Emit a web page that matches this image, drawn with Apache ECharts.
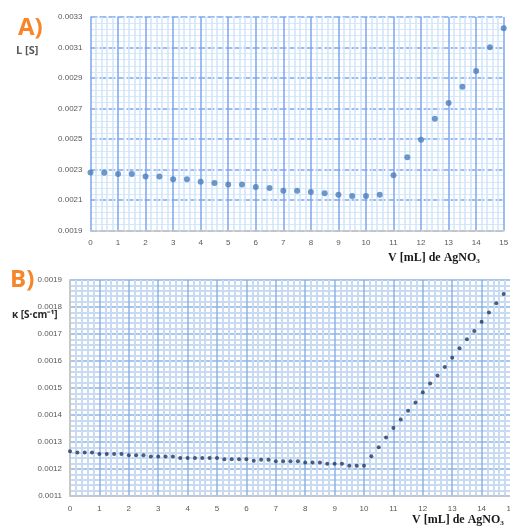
<!DOCTYPE html>
<html>
<head>
<meta charset="utf-8">
<script src="https://cdn.jsdelivr.net/npm/echarts@6/dist/echarts.min.js"></script>
<style>
html,body{margin:0;padding:0;background:#fff;}
#c{width:510px;height:527px;}
</style>
</head>
<body>
<div id="c"></div>
<script>
// ---- Data ----
var volA = [0,0.5,1,1.5,2,2.5,3,3.5,4,4.5,5,5.5,6,6.5,7,7.5,8,8.5,9,9.5,10,10.5,11,11.5,12,12.5,13,13.5,14,14.5,15];
var condL = [0.002281,0.002280,0.002272,0.002272,0.002255,0.002255,0.002237,0.002237,0.002220,0.002212,
             0.002203,0.002203,0.002187,0.002179,0.002162,0.002162,0.002153,0.002145,0.002136,0.002128,
             0.002128,0.002136,0.002264,0.002381,0.002496,0.002634,0.002737,0.002843,0.002946,0.003102,0.003226];

var volB = [0,0.25,0.5,0.75,1,1.25,1.5,1.75,2,2.25,2.5,2.75,3,3.25,3.5,3.75,4,4.25,4.5,4.75,
            5,5.25,5.5,5.75,6,6.25,6.5,6.75,7,7.25,7.5,7.75,8,8.25,8.5,8.75,9,9.25,9.5,9.75,
            10,10.25,10.5,10.75,11,11.25,11.5,11.75,12,12.25,12.5,12.75,13,13.25,13.5,13.75,14,14.25,14.5,14.75];
var kappa = [0.001266,0.001261,0.001261,0.001261,0.001256,0.001256,0.001256,0.001256,0.001251,0.001251,
             0.001251,0.001246,0.001246,0.001246,0.001246,0.001241,0.001241,0.001241,0.001241,0.001241,
             0.001241,0.001236,0.001236,0.001236,0.001236,0.001231,0.001234,0.001234,0.001229,0.001229,
             0.001229,0.001229,0.001224,0.001224,0.001224,0.001219,0.001219,0.001219,0.001212,0.001212,
             0.001212,0.001247,0.001281,0.001317,0.001352,0.001383,0.001416,0.001446,0.001484,0.001517,
             0.001546,0.001578,0.001612,0.001647,0.001681,0.001711,0.001745,0.001780,0.001814,0.001848];

var ticksA_y = ['0.0019','0.0021','0.0023','0.0025','0.0027','0.0029','0.0031','0.0033'];
var ticksB_y = ['0.0011','0.0012','0.0013','0.0014','0.0015','0.0016','0.0017','0.0018','0.0019'];

// Axis A plotted in units of 1e-4 offset from its minimum (so ticks start at 0.0019)
var A_MIN = 19, A_SCALE = 1e4;
var dataA = volA.map(function(x,i){ return [x, condL[i]*A_SCALE - A_MIN]; });
var dataB = volB.map(function(x,i){ return [x, kappa[i]*1e4]; });

var lblFont = {fontFamily:'Liberation Sans', fontSize:8, color:'#595959'};

var chart = echarts.init(document.getElementById('c'), null, {renderer:'canvas'});
chart.setOption({
  animation:false,
  backgroundColor:'#ffffff',
  grid:[
    {left:90.5, right:6.3, top:17, bottom:296.3, show:false, containLabel:false, outerBoundsMode:'none'},
    {left:70, right:-1, top:280, bottom:31, show:false, containLabel:false, outerBoundsMode:'none'}
  ],
  xAxis:[
    {gridIndex:0, type:'value', min:0, max:15, interval:1,
     axisLine:{show:true, lineStyle:{color:'#c8c8c8', width:1.5}},
     axisTick:{show:false},
     axisLabel:Object.assign({margin:8}, lblFont),
     splitLine:{show:true, lineStyle:{color:'#7ea6ee', width:1.5}},
     minorTick:{show:false, splitNumber:5},
     minorSplitLine:{show:true, lineStyle:{color:'#cfe5fb', width:1.5}}
    },
    {gridIndex:1, type:'value', min:0, max:15, interval:1,
     axisLine:{show:true, lineStyle:{color:'#c8c8c8', width:1.5}},
     axisTick:{show:false},
     axisLabel:Object.assign({margin:9}, lblFont),
     splitLine:{show:true, lineStyle:{color:'#8db3e5', width:1.5}},
     minorTick:{show:false, splitNumber:5},
     minorSplitLine:{show:true, lineStyle:{color:'#c8dbf2', width:2}}
    }
  ],
  yAxis:[
    {gridIndex:0, type:'value', min:0, max:14, interval:2,
     axisLine:{show:false},
     axisTick:{show:false},
     axisLabel:Object.assign({margin:8, formatter:function(v){ return ticksA_y[Math.round(v/2)]; }}, lblFont),
     splitLine:{show:true, lineStyle:{color:'#7ea6ee', width:1.5, type:[7,2]}},
     minorTick:{show:false, splitNumber:5},
     minorSplitLine:{show:true, lineStyle:{color:'#d6e9fb', width:1}}
    },
    {gridIndex:1, type:'value', min:11, max:19, interval:1,
     axisLine:{show:true, lineStyle:{color:'#c8c8c8', width:2}},
     axisTick:{show:false},
     axisLabel:Object.assign({margin:8, formatter:function(v){ return ticksB_y[Math.round(v)-11]; }}, lblFont),
     splitLine:{show:true, lineStyle:{color:'#8db3e5', width:1.5}},
     minorTick:{show:false, splitNumber:5},
     minorSplitLine:{show:true, lineStyle:{color:'#c8dbf2', width:2}}
    }
  ],
  series:[
    {type:'scatter', xAxisIndex:0, yAxisIndex:0, data:dataA, symbol:'circle', symbolSize:6,
     itemStyle:{color:'#4a7ebb'}, z:5},
    {type:'scatter', xAxisIndex:1, yAxisIndex:1, data:dataB, symbol:'circle', symbolSize:4,
     itemStyle:{color:'#1f3864'}, z:5}
  ],
  graphic:[
    {type:'text', left:18, top:16, style:{text:'A)', font:'bold 24px "Open Sans", sans-serif', fill:'#f7862a'}},
    {type:'text', left:16, top:45, style:{text:'L [S]', font:'bold 11px "Open Sans", sans-serif', fill:'#595959'}},
    {type:'text', left:388, top:252, style:{text:'V [mL] de AgNO₃', font:'bold 12px "Liberation Serif", serif', fill:'#1a1a1a'}},
    {type:'text', left:10, top:268, style:{text:'B)', font:'bold 24px "Open Sans", sans-serif', fill:'#f7862a'}},
    {type:'text', left:12, top:310, style:{text:'κ [S·cm⁻¹]', font:'bold 10px "Open Sans", sans-serif', fill:'#262626'}},
    {type:'text', left:412, top:514, style:{text:'V [mL] de AgNO₃', font:'bold 12px "Liberation Serif", serif', fill:'#1a1a1a'}}
  ]
});
</script>
</body>
</html>
